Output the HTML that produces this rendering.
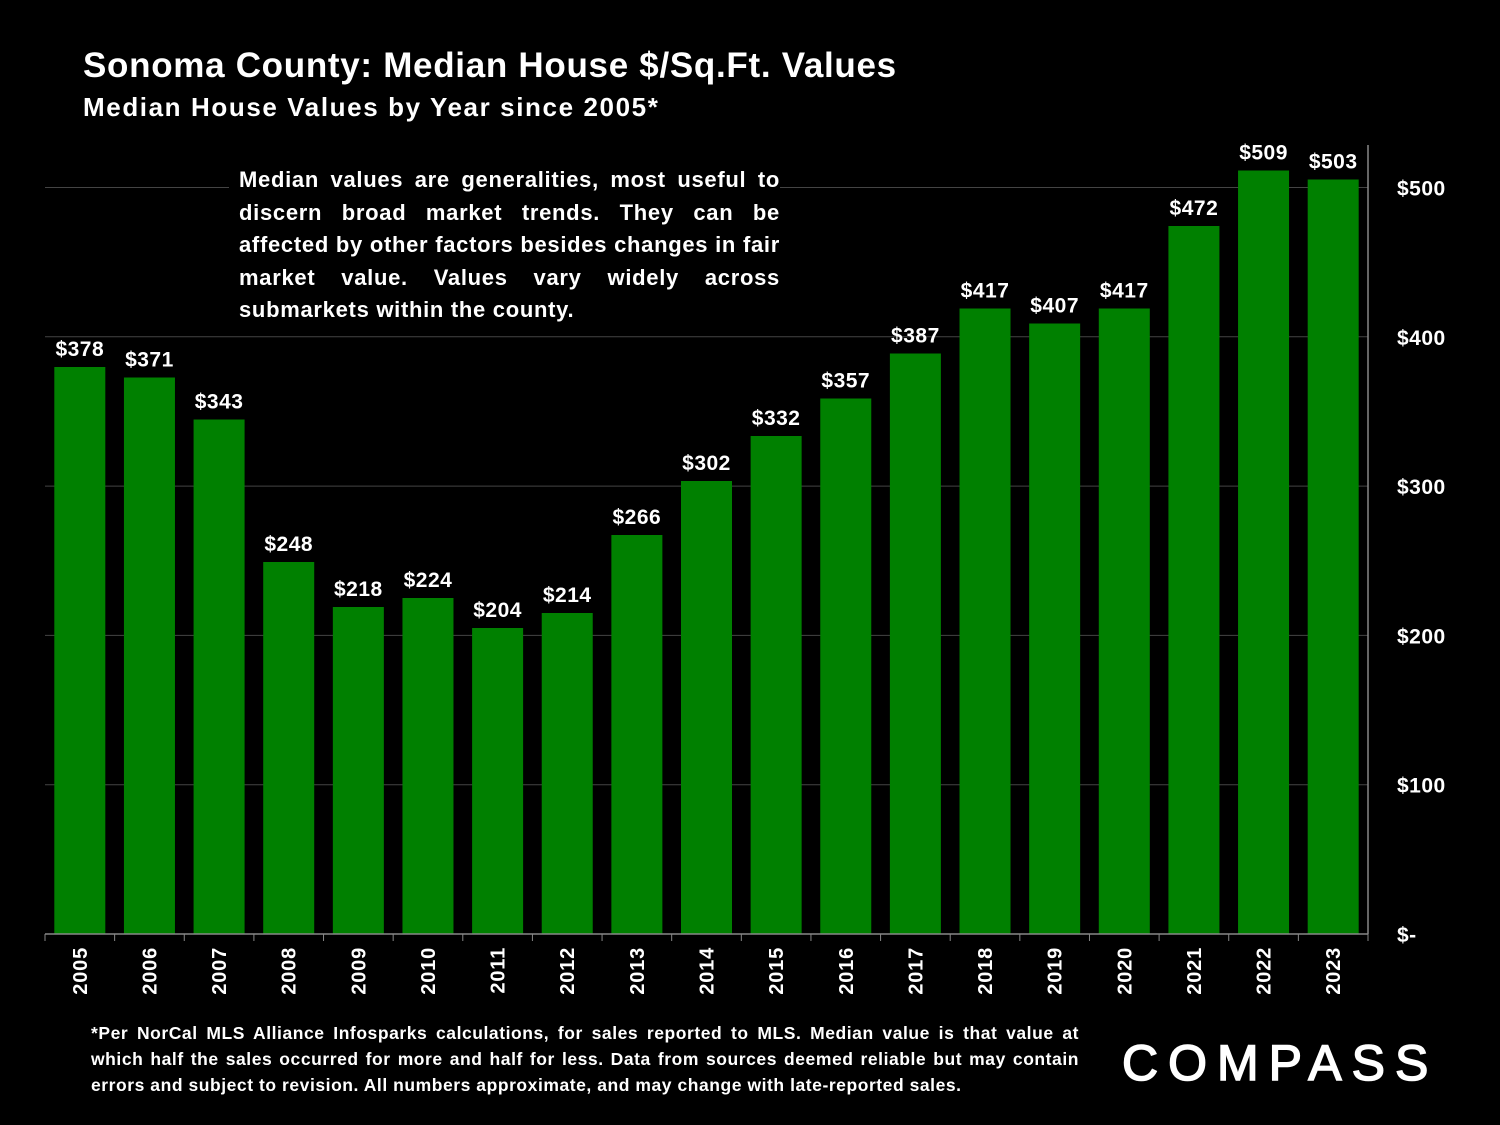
<!DOCTYPE html>
<html><head><meta charset="utf-8"><style>
body{margin:0;background:#000;width:1500px;height:1125px;overflow:hidden;font-family:"Liberation Sans",sans-serif}
svg{position:absolute;left:0;top:0}
.t{position:absolute;color:#fff;font-weight:bold}
</style></head><body>
<div class="t" style="left:83px;top:46px;font-size:35px;letter-spacing:0.7px">Sonoma County: Median House $/Sq.Ft. Values</div>
<div class="t" style="left:83px;top:92px;font-size:26px;letter-spacing:1.6px">Median House Values by Year since 2005*</div>
<svg width="1500" height="1125" id="chart"></svg>
<div class="t" style="left:229px;top:164px;width:541px;padding-left:10px;background:#000;font-size:22px;letter-spacing:0.7px;line-height:32.5px;text-align:justify;text-align-last:left">Median values are generalities, most useful to discern broad market trends. They can be affected by other factors besides changes in fair market value. Values vary widely across submarkets within the county.</div>
<div class="t" style="left:91px;top:1020px;width:988px;font-size:17.5px;letter-spacing:0.55px;line-height:26px;text-align:justify">*Per NorCal MLS Alliance Infosparks calculations, for sales reported to MLS. Median value is that value at which half the sales occurred for more and half for less. Data from sources deemed reliable but may contain errors and subject to revision. All numbers approximate, and may change with late-reported sales.</div>
<div class="t" style="left:1122px;top:1034px;font-size:50px;font-weight:normal;letter-spacing:10px;-webkit-text-stroke:1.5px #fff">COMPASS</div>
<script>
const years=["2005","2006","2007","2008","2009","2010","2011","2012","2013","2014","2015","2016","2017","2018","2019","2020","2021","2022","2023"];
const values=[378,371,343,248,218,224,204,214,266,302,332,357,387,417,407,417,472,509,503];
const yTicks=[0,100,200,300,400,500];
const yTickLabels=["$-","$100","$200","$300","$400","$500"];
const svg=document.getElementById('chart');
const NS='http://www.w3.org/2000/svg';
const X0=45,X1=1368,Y0=934,PX=1.5;
const cw=(X1-X0)/years.length;
const y=v=>Y0-v*PX;
function mk(t,a,txt){const e=document.createElementNS(NS,t);for(const k in a)e.setAttribute(k,a[k]);if(txt!=null)e.textContent=txt;svg.appendChild(e);return e;}
yTicks.forEach((v,i)=>{
  const gy=Y0-v*1.493;
  if(v>0){const g=mk('line',{x1:X0,x2:X1,y1:gy,y2:gy,stroke:'#444','stroke-width':1});
  
  }
  const t=mk('text',{x:1397,y:gy+8,fill:'#fff','font-size':21,'font-weight':'bold','letter-spacing':0.5},yTickLabels[i]);
  
  
});
years.forEach((yr,i)=>{
  const cx=X0+cw*(i+0.5),bw=51;
  const b=mk('rect',{x:cx-bw/2,y:y(values[i]),width:bw,height:values[i]*PX,fill:'#008000'});
  
  
  const l=mk('text',{x:cx,y:y(values[i])-11,fill:'#fff','font-size':21,'font-weight':'bold','text-anchor':'middle','letter-spacing':0.5},'$'+values[i]);
  
  
  const xl=mk('text',{x:0,y:0,fill:'#fff','font-size':20,'font-weight':'bold','text-anchor':'end','letter-spacing':0.8,transform:`translate(${cx+7},${947}) rotate(-90)`},yr);
  
  
});
for(let i=0;i<=years.length;i++){const tk=mk('line',{x1:X0+cw*i,x2:X0+cw*i,y1:Y0,y2:Y0+7,stroke:'#888'});

}
const ax=mk('line',{x1:X0,x2:X1,y1:Y0,y2:Y0,stroke:'#888','stroke-width':1.5});


const ay=mk('line',{x1:X1,x2:X1,y1:145,y2:Y0,stroke:'#888','stroke-width':1.5});


</script>
</body></html>
